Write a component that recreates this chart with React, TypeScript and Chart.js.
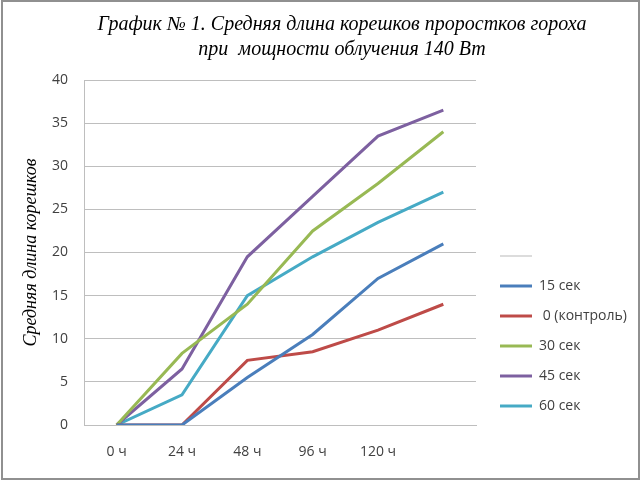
import React, { useEffect, useRef } from 'react';
import { Chart, registerables } from 'chart.js';

Chart.register(...registerables);

const categories = ['0 ч', '24 ч', '48 ч', '96 ч', '120 ч', ''];
const series15 = [0, 0, 5.5, 10.5, 17, 21];
const seriesControl = [0, 0, 7.5, 8.5, 11, 14];
const series30 = [0, 8.3, 14, 22.5, 28, 34];
const series45 = [0, 6.5, 19.5, 26.5, 33.5, 36.5];
const series60 = [0, 3.5, 15, 19.5, 23.5, 27];
const seriesLabels = ['', '15 сек', ' 0 (контроль)', '30 сек', '45 сек', '60 сек'];
const seriesColors = ['#dcdcdc', '#4A7EBB', '#BE4B48', '#98B954', '#7D60A0', '#46AAC5'];
const titleLines = ['График № 1. Средняя длина корешков проростков гороха', 'при  мощности облучения 140 Вт'];
const yTitle = 'Средняя длина корешков';
const yMin = 0;
const yMax = 40;
const yStep = 5;

const overlayPlugin = {
  id: 'overlayPlugin',
  beforeDraw(chart: any) {
    const lg = chart.legend;
    if (lg) {
      lg.left = 484;
      lg.right = 640;
      lg.top = 233;
      lg.bottom = 480;
      lg.width = lg.right - lg.left;
      lg.height = lg.bottom - lg.top;
    }
  },
  afterDraw(chart: any) {
    const ctx = chart.ctx;
    ctx.save();
    ctx.font = 'italic 20px "Liberation Serif"';
    ctx.fillStyle = '#000000';
    ctx.textAlign = 'center';
    ctx.textBaseline = 'alphabetic';
    ctx.fillText(titleLines[0], 342, 30);
    ctx.fillText(titleLines[1], 342, 55);
    ctx.restore();
  },
};

export default function App() {
  const canvasRef = useRef<HTMLCanvasElement | null>(null);

  useEffect(() => {
    if (!canvasRef.current) return;
    const allSeries = [[] as number[], series15, seriesControl, series30, series45, series60];
    const chart = new Chart(canvasRef.current, {
      type: 'line',
      data: {
        labels: categories,
        datasets: allSeries.map((d, i) => ({
          label: seriesLabels[i],
          data: d,
          borderColor: seriesColors[i],
          backgroundColor: seriesColors[i],
          borderWidth: i === 0 ? 2 : 3,
          pointRadius: 0,
          tension: 0,
          fill: false,
        })),
      },
      options: {
        animation: false,
        responsive: false,
        layout: { padding: { top: 80, right: 164, bottom: 0, left: 0 } },
        plugins: {
          title: { display: false },
          tooltip: { enabled: false },
          legend: {
            display: true,
            position: 'chartArea' as any,
            align: 'start',
            labels: {
              usePointStyle: true,
              pointStyle: 'line',
              pointStyleWidth: 32,
              padding: 16,
              color: '#404040',
              font: { family: '"Open Sans"', size: 14 },
            },
          },
        },
        scales: {
          x: {
            type: 'category',
            offset: true,
            grid: { display: false, drawTicks: false },
            border: { display: true, color: '#bebebe', width: 1 },
            ticks: {
              padding: 19,
              color: '#404040',
              font: { family: '"Open Sans"', size: 14 },
              maxRotation: 0,
              autoSkip: false,
            },
            afterFit: (s: any) => {
              s.height = 55;
            },
          },
          y: {
            min: yMin,
            max: yMax,
            grid: { color: '#bebebe', drawTicks: false, lineWidth: 1 },
            border: { display: true, color: '#bebebe', width: 1 },
            ticks: {
              stepSize: yStep,
              padding: 16,
              color: '#404040',
              font: { family: '"Open Sans"', size: 14 },
            },
            title: {
              display: true,
              text: yTitle,
              color: '#000000',
              font: { family: '"Liberation Serif"', size: 18, style: 'italic' },
              padding: { top: 20, bottom: 0 },
            },
            afterFit: (s: any) => {
              s.width = 84;
            },
          },
        },
      },
      plugins: [overlayPlugin],
    });
    return () => chart.destroy();
  }, []);

  return (
    <div style={{ position: 'fixed', left: 0, top: 0, width: 640, height: 480, background: '#ffffff' }}>
      <canvas ref={canvasRef} width={640} height={480} style={{ display: 'block' }} />
      <div
        style={{
          position: 'absolute',
          left: 1,
          top: 0,
          width: 639,
          height: 480,
          boxSizing: 'border-box',
          border: '2px solid #909090',
          pointerEvents: 'none',
        }}
      />
    </div>
  );
}
